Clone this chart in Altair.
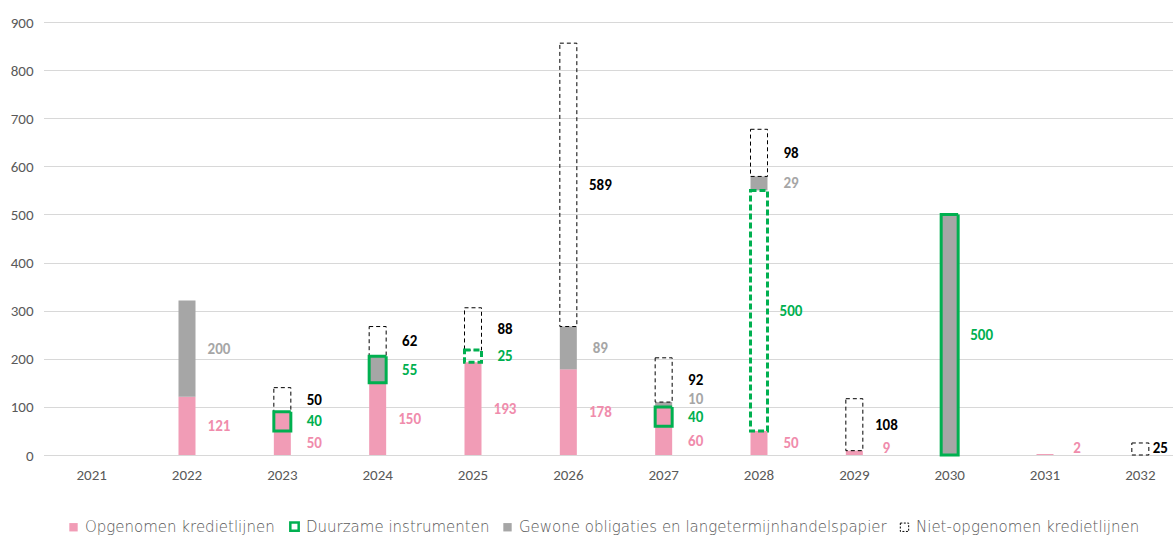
import altair as alt
import pandas as pd

# Looptijdprofiel van de financiering per vervaljaar (in miljoen)
jaren = ["2021", "2022", "2023", "2024", "2025", "2026",
         "2027", "2028", "2029", "2030", "2031", "2032"]

opgenomen = [0, 121, 50, 150, 193, 178, 60, 50, 9, 0, 2, 0]
duurzaam = [0, 0, 40, 55, 25, 0, 40, 500, 0, 500, 0, 0]
obligaties = [0, 200, 0, 0, 0, 89, 10, 29, 0, 0, 0, 0]
niet_opgenomen = [0, 0, 50, 62, 88, 589, 92, 98, 108, 0, 0, 25]

# onderliggend instrument van het duurzame deel
duurzaam_basis = ["", "", "opgenomen", "obligatie", "niet-opgenomen", "",
                  "opgenomen", "niet-opgenomen", "", "obligatie", "", ""]

reeksen = ["Opgenomen kredietlijnen", "Duurzame instrumenten",
           "Gewone obligaties en langetermijnhandelspapier",
           "Niet-opgenomen kredietlijnen"]

ROZE = "#F19CB6"
ROZE_TEKST = "#F08CAC"
GRIJS = "#A6A6A6"
GROEN = "#00B050"
ZWART = "#000000"
AS_KLEUR = "#595959"

FONT = "Carlito, Liberation Sans Narrow, DejaVu Sans Condensed, sans-serif"

rijen = []
for i, jaar in enumerate(jaren):
    basis = 0
    vorig_label = None
    for reeks, waarden in zip(reeksen, [opgenomen, duurzaam, obligaties, niet_opgenomen]):
        v = waarden[i]
        if v <= 0:
            continue
        if reeks == reeksen[0]:
            vulling, rand, tekst = ROZE, "geen", ROZE_TEKST
        elif reeks == reeksen[1]:
            b = duurzaam_basis[i]
            vulling = {"opgenomen": ROZE, "obligatie": GRIJS}.get(b, "geen")
            rand = "groen_streep" if b == "niet-opgenomen" else "groen"
            tekst = GROEN
        elif reeks == reeksen[2]:
            vulling, rand, tekst = GRIJS, "geen", GRIJS
        else:
            vulling, rand, tekst = "geen", "zwart_streep", ZWART
        midden = basis + v / 2
        label_y = max(midden, 15)
        if vorig_label is not None:
            label_y = max(label_y, vorig_label + 36)
        vorig_label = label_y
        rijen.append({
            "jaar": jaar, "reeks": reeks, "waarde": v,
            "y0": basis, "y1": basis + v,
            "vulling": vulling, "rand": rand, "tekstkleur": tekst,
            "label_y": label_y,
        })
        basis += v

df = pd.DataFrame(rijen)

x_enc = alt.X("jaar:N", sort=jaren, scale=alt.Scale(domain=jaren, range=[0, 1144]),
              axis=alt.Axis(title=None, labelAngle=0, domain=False, ticks=False,
                            labelPadding=12, labelFont=FONT, labelFontSize=15,
                            labelColor=AS_KLEUR, grid=False))
y_enc = alt.Y("y0:Q", scale=alt.Scale(domain=[0, 900], nice=False),
              axis=alt.Axis(title=None, values=list(range(0, 901, 100)),
                            domain=False, ticks=False, labelPadding=11,
                            labelFont=FONT, labelFontSize=15, labelColor=AS_KLEUR,
                            grid=True, gridColor="#B0B0B0", gridDash=[1, 1],
                            gridWidth=1))

basis_chart = alt.Chart(df)

vullingen = basis_chart.transform_filter("datum.vulling != 'geen'").mark_bar(
    size=17, strokeWidth=0
).encode(
    x=x_enc, y=y_enc, y2="y1:Q",
    fill=alt.Fill("vulling:N", scale=None),
)


def rand_laag(soort, kleur, breedte, streep):
    return basis_chart.transform_filter(f"datum.rand == '{soort}'").mark_bar(
        size=17, fillOpacity=0, stroke=kleur, strokeWidth=breedte,
        strokeDash=streep, strokeJoin="miter"
    ).encode(x=x_enc, y=y_enc, y2="y1:Q")


rand_zwart = rand_laag("zwart_streep", ZWART, 1, [4, 3])
rand_groen = rand_laag("groen", GROEN, 3, [1, 0])
rand_groen_streep = rand_laag("groen_streep", GROEN, 3, [6, 3])


def label_laag(filter_expr, dx):
    return basis_chart.transform_filter(filter_expr).mark_text(
        dx=dx, align="center", baseline="middle", font=FONT,
        fontSize=15, fontWeight="bold"
    ).encode(
        x=x_enc,
        y=alt.Y("label_y:Q"),
        text=alt.Text("waarde:Q"),
        color=alt.Color("tekstkleur:N", scale=None),
    )


laatste = jaren[-1]
labels = label_laag(f"datum.jaar != '{laatste}'", 32)
labels_rand = label_laag(f"datum.jaar == '{laatste}'", 20)

# alleen de legenda: lege selectie, vaste domeinen
legenda = basis_chart.transform_filter("datum.waarde < 0").mark_bar().encode(
    x=x_enc, y=y_enc,
    fill=alt.Fill("reeks:N", title=None,
                  scale=alt.Scale(domain=reeksen, range=[ROZE, "white", GRIJS, "white"])),
    stroke=alt.Stroke("reeks:N", title=None,
                      scale=alt.Scale(domain=reeksen, range=[ROZE, GROEN, GRIJS, ZWART])),
    strokeDash=alt.StrokeDash("reeks:N", title=None,
                              scale=alt.Scale(domain=reeksen,
                                              range=[[1, 0], [1, 0], [1, 0], [2, 1.5]])),
    strokeWidth=alt.StrokeWidth("reeks:N", title=None,
                                scale=alt.Scale(type="ordinal", domain=reeksen,
                                                range=[0, 2.5, 0, 1])),
)

chart = alt.layer(
    vullingen, rand_zwart, rand_groen_streep, rand_groen, labels, labels_rand, legenda
).properties(
    width=1129, height=433,
    autosize=alt.AutoSizeParams(type="none"),
    padding={"left": 44, "top": 22, "right": 0, "bottom": 83},
    background="white",
).configure_view(
    stroke=None
).configure_legend(
    orient="none", direction="horizontal", legendX=22, legendY=497,
    labelFont="DejaVu Sans", labelFontSize=15, labelFontWeight=300,
    labelColor=AS_KLEUR,
    symbolType="square", symbolSize=70, columnPadding=10, labelOffset=4,
    labelLimit=600,
)

chart.save("out.html", embed_options={"renderer": "svg", "actions": False})
